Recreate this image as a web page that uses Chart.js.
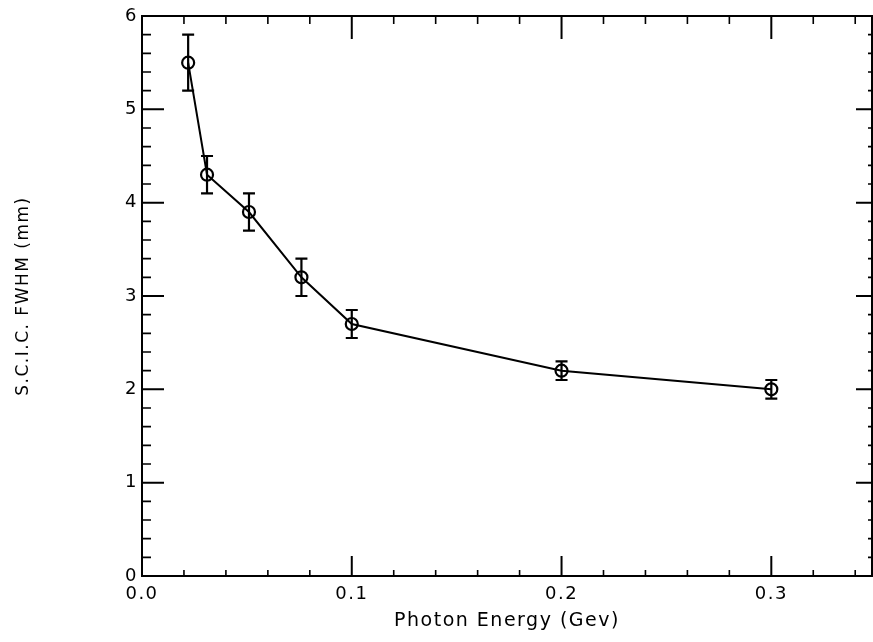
<!DOCTYPE html>
<html>
<head>
<meta charset="utf-8">
<script src="https://cdn.jsdelivr.net/npm/chart.js@4"></script>
<style>
html,body{margin:0;padding:0;background:#fff;}
#wrap{width:873px;height:642px;}
</style>
</head>
<body>
<div id="wrap"><canvas id="c" width="873" height="642"></canvas></div>
<script>
// ---- data ----
const energy   = [0.022, 0.031, 0.051, 0.076, 0.100, 0.200, 0.300];   // GeV
const fwhm     = [5.5,   4.3,   3.9,   3.2,   2.7,   2.2,   2.0];     // mm
const errLow   = [5.2,   4.1,   3.7,   3.0,   2.55,  2.1,   1.9];
const errHigh  = [5.8,   4.5,   4.1,   3.4,   2.85,  2.3,   2.1];
const xTicks   = [0.0, 0.1, 0.2, 0.3];
const yTicks   = [0, 1, 2, 3, 4, 5, 6];
const xMinorStep = 0.02;
const yMinorStep = 0.2;

const FONT = "'DejaVu Sans', 'Liberation Sans', sans-serif";

const points = energy.map((x, i) => ({x: x, y: fwhm[i]}));

const spacing = {
  id: 'spacing',
  beforeLayout(chart) { chart.ctx.letterSpacing = '1.5px'; },
  beforeDraw(chart) { chart.ctx.letterSpacing = '1.5px'; }
};

const frameAndTicks = {
  id: 'frameAndTicks',
  afterDraw(chart) {
    const ctx = chart.ctx;
    const a = chart.chartArea;
    const xs = chart.scales.x, ys = chart.scales.y;
    ctx.save();
    ctx.strokeStyle = '#000';
    ctx.lineCap = 'butt';
    ctx.lineWidth = 2;
    ctx.strokeRect(a.left, a.top, a.right - a.left, a.bottom - a.top);
    const isMajor = (v, arr) => arr.some(t => Math.abs(t - v) < 1e-6);
    for (let v = xs.min; v <= xs.max + 1e-9; v += xMinorStep) {
      const vv = Math.round(v * 1000) / 1000;
      const px = xs.getPixelForValue(vv);
      const major = isMajor(vv, xTicks);
      ctx.lineWidth = major ? 2 : 1.6;
      ctx.beginPath();
      ctx.moveTo(px, a.bottom); ctx.lineTo(px, a.bottom - (major ? 20 : 6));
      ctx.moveTo(px, a.top);    ctx.lineTo(px, a.top + (major ? 23 : 8));
      ctx.stroke();
    }
    for (let v = ys.min; v <= ys.max + 1e-9; v += yMinorStep) {
      const vv = Math.round(v * 1000) / 1000;
      const py = ys.getPixelForValue(vv);
      const major = isMajor(vv, yTicks);
      ctx.lineWidth = major ? 2 : 1.6;
      ctx.beginPath();
      ctx.moveTo(a.left, py);  ctx.lineTo(a.left + (major ? 22 : 9), py);
      ctx.moveTo(a.right, py); ctx.lineTo(a.right - (major ? 16 : 4), py);
      ctx.stroke();
    }
    ctx.restore();
  }
};

const errorBars = {
  id: 'errorBars',
  afterDatasetsDraw(chart) {
    const ctx = chart.ctx;
    const xs = chart.scales.x, ys = chart.scales.y;
    ctx.save();
    ctx.strokeStyle = '#000';
    ctx.lineWidth = 2.2;
    energy.forEach((x, i) => {
      const px = xs.getPixelForValue(x);
      const pLo = ys.getPixelForValue(errLow[i]);
      const pHi = ys.getPixelForValue(errHigh[i]);
      ctx.beginPath();
      ctx.moveTo(px, pLo); ctx.lineTo(px, pHi);
      ctx.moveTo(px - 6, pLo); ctx.lineTo(px + 6, pLo);
      ctx.moveTo(px - 6, pHi); ctx.lineTo(px + 6, pHi);
      ctx.stroke();
    });
    ctx.restore();
  }
};

new Chart(document.getElementById('c'), {
  type: 'scatter',
  data: {
    datasets: [{
      data: points,
      showLine: true,
      borderColor: '#000',
      borderWidth: 2,
      tension: 0,
      pointStyle: 'circle',
      pointRadius: 6,
      pointBorderWidth: 2.2,
      pointBorderColor: '#000',
      pointBackgroundColor: 'rgba(0,0,0,0)'
    }]
  },
  options: {
    responsive: false,
    animation: false,
    events: [],
    layout: { autoPadding: false, padding: { left: 0, right: 1, top: 16, bottom: 0 } },
    plugins: { legend: { display: false }, tooltip: { enabled: false } },
    scales: {
      x: {
        type: 'linear',
        min: 0, max: 0.348,
        afterBuildTicks: s => { s.ticks = xTicks.map(v => ({value: v})); },
        afterFit: s => { s.height = 66; s.paddingLeft = 0; s.paddingRight = 0; },
        grid: { display: false, drawTicks: false },
        border: { display: false },
        ticks: {
          color: '#000', padding: 8,
          font: { family: FONT, size: 18 },
          callback: v => v.toFixed(1)
        },
        title: {
          display: true, text: 'Photon Energy (Gev)', color: '#000',
          font: { family: FONT, size: 19 },
          padding: { top: 0, bottom: 10 }
        }
      },
      y: {
        type: 'linear',
        min: 0, max: 6,
        afterBuildTicks: s => { s.ticks = yTicks.map(v => ({value: v})); },
        afterFit: s => { s.width = 142; s.paddingTop = 0; s.paddingBottom = 0; },
        grid: { display: false, drawTicks: false },
        border: { display: false },
        ticks: {
          color: '#000', padding: 4,
          font: { family: FONT, size: 18 },
          callback: v => String(v)
        },
        title: {
          display: true, text: 'S.C.I.C. FWHM (mm)', color: '#000',
          font: { family: FONT, size: 17 },
          padding: { top: 13, bottom: 0 }
        }
      }
    }
  },
  plugins: [spacing, frameAndTicks, errorBars]
});
</script>
</body>
</html>
